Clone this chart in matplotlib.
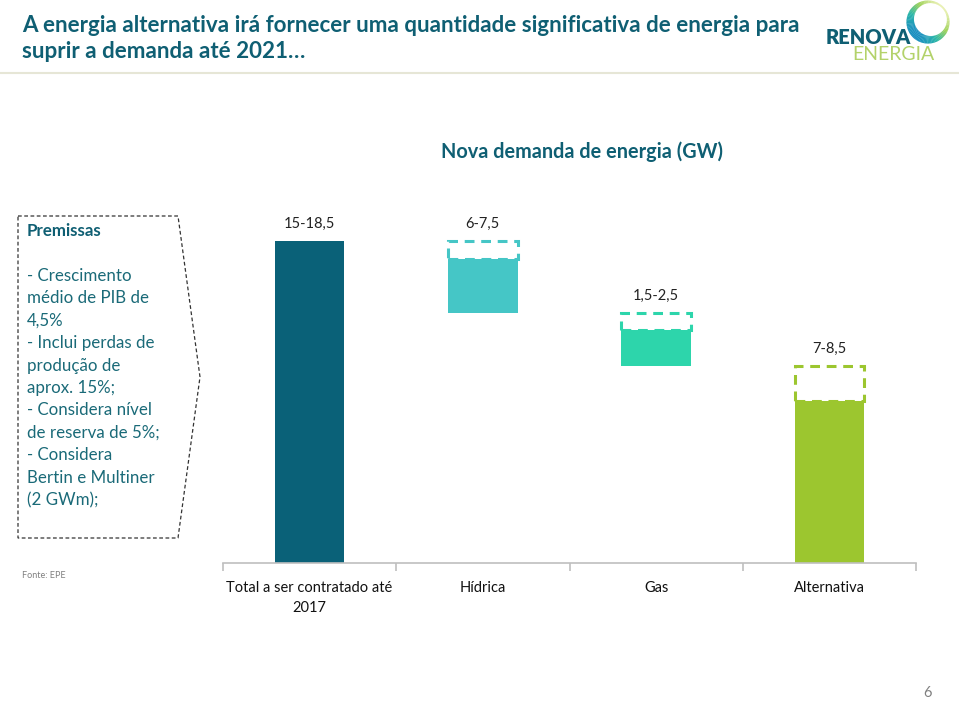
import matplotlib
matplotlib.use("Agg")
import matplotlib.pyplot as plt
from matplotlib.patches import Rectangle, Polygon, Wedge
from matplotlib.colors import LinearSegmentedColormap
import numpy as np

plt.rcParams['font.family'] = ['Lato', 'DejaVu Sans']

# ---- data (schematic units; total bar = 18.5) ----
categories = ["Total a ser contratado até\n2017", "Hídrica", "Gas", "Alternativa"]
range_labels = ["15-18,5", "6-7,5", "1,5-2,5", "7-8,5"]
bar_bottom = [0.0, 14.36, 11.32, 0.0]
solid_top = [18.5, 17.47, 13.39, 9.31]
dashed_top = [18.5, 18.5, 14.36, 11.32]
colors = ["#0a6178", "#45c6c6", "#2dd5ab", "#9cc62f"]
dash_colors = ["#0a6178", "#45c6c6", "#2dd5ab", "#9cc62f"]

premissas = ["- Crescimento", "médio de PIB de", "4,5%", "- Inclui perdas de",
             "produção de", "aprox. 15%;", "- Considera nível", "de reserva de 5%;",
             "- Considera", "Bertin e Multiner", "(2 GWm);"]

W, H = 959, 701
fig = plt.figure(figsize=(W/100, H/100), dpi=100)
teal = "#0f5f73"

def fx(x): return x / W
def fy(y): return 1 - y / H

# title
fig.text(fx(22), fy(25), "A energia alternativa irá fornecer uma quantidade significativa de energia para",
         fontsize=16.1, fontweight='bold', color=teal, va='center', ha='left')
fig.text(fx(22), fy(52), "suprir a demanda até 2021…",
         fontsize=16.1, fontweight='bold', color=teal, va='center', ha='left')
fig.add_artist(plt.Line2D([0, 1], [fy(73), fy(73)], color="#e6e6d6", lw=1.5))

# logo
fig.text(fx(826), fy(37), "RENOVA", fontsize=14.5, fontweight='heavy', color="#0f5f73", va='center', ha='left')
fig.text(fx(852), fy(55), "ENERGIA", fontsize=14, color="#b3d26a", va='center', ha='left')
lax = fig.add_axes([fx(906), fy(44), fx(44), 44/H])
lax.set_xlim(-1, 1); lax.set_ylim(-1, 1); lax.set_aspect('equal'); lax.axis('off')
ring_cols = LinearSegmentedColormap.from_list("r", ["#e8f0b0", "#9fd25a", "#2bb7a8", "#1a8fc0"])
n = 90
for i in range(n):
    a0 = i * 360 / n
    t = (1 + np.cos(np.radians(a0 + 180 / n - 225))) / 2
    lax.add_patch(Wedge((0, 0), 0.98, a0, a0 + 360 / n + 0.8, width=0.08 + 0.32 * t,
                        color=ring_cols(t), lw=0))

# subtitle
fig.text(fx(582), fy(152), "Nova demanda de energia (GW)", fontsize=14.3, fontweight='bold',
         color=teal, ha='center', va='center')

# premissas box
pts = [(18, 216), (178, 216), (200, 377), (178, 538), (18, 538)]
poly = Polygon([(fx(x), fy(y)) for x, y in pts], closed=True, fill=False,
               edgecolor="#333333", lw=0.9, ls=(0, (3, 2)), transform=fig.transFigure)
fig.add_artist(poly)
fig.text(fx(27), fy(231), "Premissas", fontsize=12.2, fontweight='bold', color=teal, va='center')
for i, line in enumerate(premissas):
    fig.text(fx(27), fy(276 + i * 22.4), line, fontsize=12.2, color="#1a6a78", va='center')

fig.text(fx(22), fy(576), "Fonte: EPE", fontsize=6.5, color="#808080", va='center')
fig.text(fx(928), fy(693), "6", fontsize=10.5, color="#808080", va='center', ha='center')

# chart axes
ax = fig.add_axes([fx(223), fy(563), fx(916 - 223), (563 - 190) / H])
ax.set_xlim(-0.5, 3.5)
ax.set_ylim(0, (563 - 190) * 18.5 / 322)
bw = 0.4
x = np.arange(len(categories))
for i in range(len(categories)):
    ax.bar(x[i], solid_top[i] - bar_bottom[i], bottom=bar_bottom[i], width=bw,
           color=colors[i], lw=0, zorder=2)
    if dashed_top[i] > solid_top[i]:
        ax.add_patch(Rectangle((x[i] - bw / 2, solid_top[i]), bw, dashed_top[i] - solid_top[i],
                               fill=False, edgecolor=dash_colors[i], lw=2.2,
                               ls=(0, (3.2, 2.2)), zorder=3))
    ax.text(x[i], dashed_top[i] + 1.0, range_labels[i], ha='center', va='center',
            fontsize=10.5, color="#222222")

for s in ['top', 'right', 'left']:
    ax.spines[s].set_visible(False)
ax.spines['bottom'].set_color("#bfbfbf")
ax.spines['bottom'].set_linewidth(1.2)
ax.set_yticks([])
ax.set_xticks([-0.5, 0.5, 1.5, 2.5, 3.5], minor=False)
ax.set_xticklabels([])
ax.tick_params(axis='x', which='major', length=6, color="#bfbfbf", width=1.2, direction='out')
ax.set_xticks(x, minor=True)
ax.set_xticklabels(categories, minor=True, fontsize=10.5, color="#111111")
ax.tick_params(axis='x', which='minor', length=0, pad=13)
for t in ax.get_xticklabels(minor=True):
    t.set_va('top')
    t.set_linespacing(1.5)

fig.savefig("out.png", dpi=100, facecolor='white')
